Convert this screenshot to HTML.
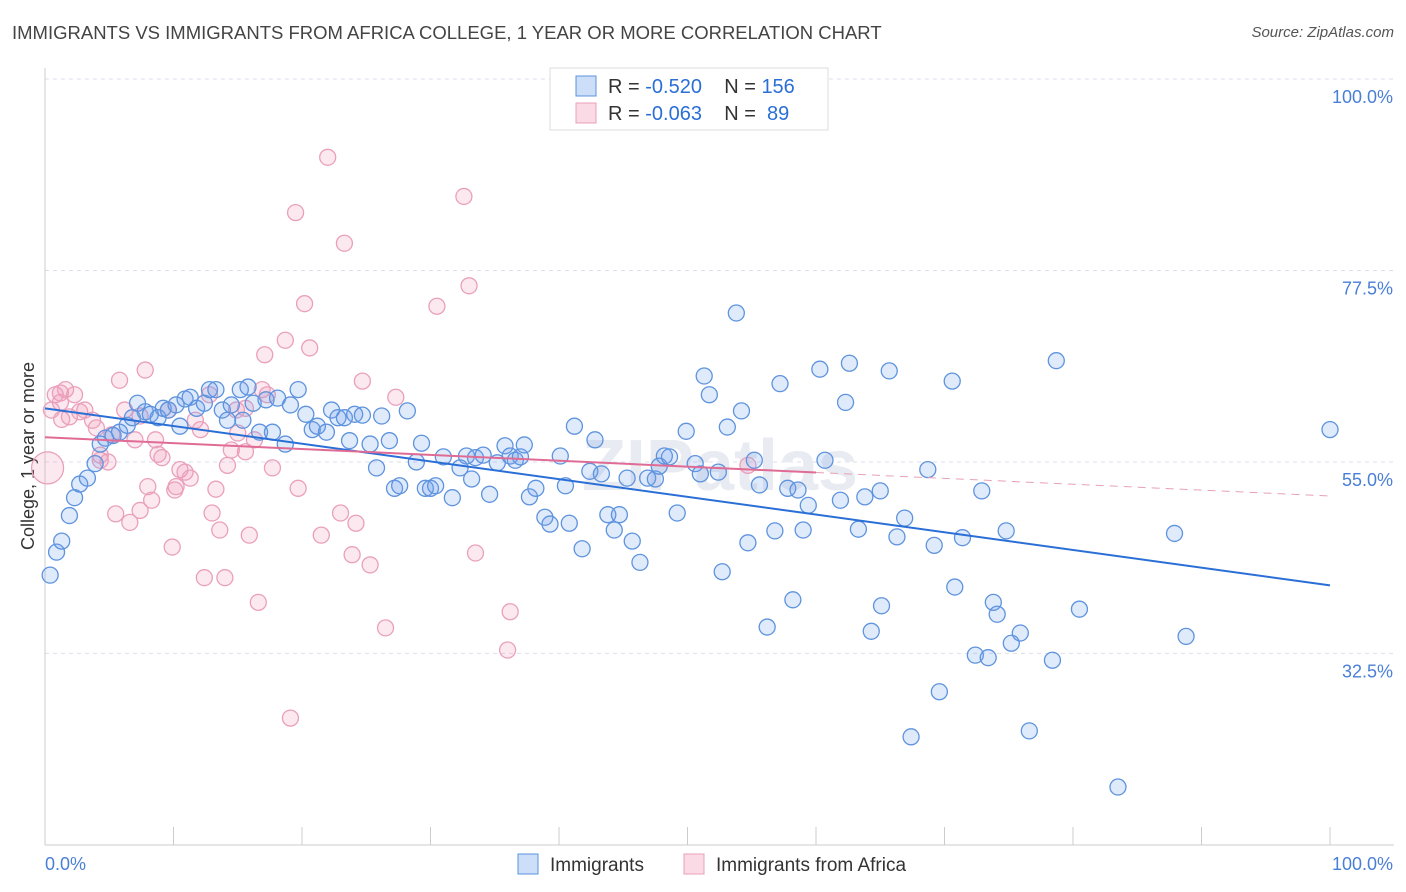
<!DOCTYPE html>
<html><head><meta charset="utf-8"><style>
body{margin:0;background:#fff;font-family:"Liberation Sans",sans-serif;}
#wrap{position:relative;width:1406px;height:892px;overflow:hidden;}
.title{position:absolute;left:12px;top:22px;font-size:18.5px;color:#444;}
.src{position:absolute;right:12px;top:24px;font-size:15px;color:#555;font-style:italic;}
</style></head><body>
<div id="wrap">
<div class="title">IMMIGRANTS VS IMMIGRANTS FROM AFRICA COLLEGE, 1 YEAR OR MORE CORRELATION CHART</div>
<div class="src">Source: ZipAtlas.com</div>
<svg id="chart" width="1406" height="892" style="position:absolute;left:0;top:0"></svg>
</div>
<script>
const blueX=[0.4,0.9,1.3,1.9,2.3,2.7,3.3,3.9,4.3,4.7,5.3,5.8,6.4,6.8,7.2,7.8,8.2,8.8,9.2,9.6,10.2,10.5,10.9,11.3,11.8,12.4,12.8,13.3,13.8,14.2,14.5,15.2,15.4,15.8,16.2,16.7,17.2,17.7,18.1,18.7,19.1,19.7,20.3,20.8,21.2,21.9,22.3,22.8,23.3,23.7,24.1,24.7,25.3,25.8,26.2,26.8,27.2,27.6,28.2,28.9,29.3,29.6,30.0,30.4,31.0,31.7,32.3,32.8,33.2,33.5,34.1,34.6,35.2,35.8,36.2,36.6,37.0,37.3,37.7,38.2,38.9,39.3,40.1,40.5,40.8,41.2,41.8,42.4,42.8,43.3,43.8,44.3,44.7,45.3,45.7,46.3,46.9,47.5,47.8,48.2,48.6,49.2,49.9,50.6,51.0,51.3,51.7,52.4,52.7,53.1,53.8,54.2,54.7,55.2,55.6,56.2,56.8,57.2,57.8,58.2,58.6,59.0,59.4,60.3,60.7,61.9,62.3,62.6,63.3,63.8,64.3,65.0,65.1,65.7,66.3,66.9,67.4,68.7,69.2,69.6,70.6,70.8,71.4,72.4,72.9,73.4,73.8,74.1,74.8,75.2,75.9,76.6,78.4,78.7,80.5,83.5,87.9,88.8,100];
const blueY=[41.7,44.4,45.7,48.7,50.8,52.4,53.1,54.8,57.1,57.8,58.1,58.5,59.3,60.2,61.9,60.9,60.6,60.2,61.3,61.1,61.7,59.2,62.4,62.6,61.3,61.9,63.5,63.5,61.1,59.9,61.7,63.5,59.9,63.8,61.9,58.5,62.3,58.5,62.5,57.1,61.7,63.5,60.6,58.8,59.2,58.5,61.1,60.2,60.2,57.5,60.6,60.5,57.1,54.3,60.4,57.5,51.9,52.2,61.0,55.0,57.2,51.9,51.9,52.2,55.6,50.8,54.3,55.7,53.0,55.5,55.8,51.2,54.9,56.9,55.7,55.2,55.6,57.0,50.9,51.9,48.5,47.7,55.7,52.2,47.8,59.2,44.8,53.9,57.6,53.6,48.8,47.0,48.8,53.1,45.7,43.2,53.1,53.0,54.5,55.7,55.6,49.0,58.6,54.8,53.6,65.1,62.9,53.8,42.1,59.1,72.5,61.0,45.5,55.2,52.3,35.6,46.9,64.2,51.9,38.8,51.7,47.0,49.9,65.9,55.2,50.5,62.0,66.6,47.1,50.9,35.1,51.6,38.1,65.7,46.2,48.4,22.7,54.1,45.2,28.0,64.5,40.3,46.1,32.3,51.6,32.0,38.5,37.1,46.9,33.7,34.9,23.4,31.7,66.9,37.7,16.8,46.6,34.5,58.8];
const pinkX=[0.2,0.5,0.8,1.2,1.6,1.9,2.3,2.7,3.1,3.7,4.0,4.3,4.9,5.2,5.5,5.8,6.2,6.6,7.0,7.4,7.8,8.0,8.3,8.6,8.8,9.1,9.6,9.9,10.2,10.5,10.9,11.3,11.7,12.1,12.4,13.0,13.3,13.6,14.0,14.2,14.5,14.9,15.0,15.6,15.9,16.3,16.6,16.9,17.1,17.3,17.7,18.7,19.1,19.5,19.7,20.2,20.6,21.5,22.0,23.0,23.3,23.9,24.2,24.7,25.3,26.5,27.3,30.5,32.6,33.0,33.5,36.0,36.2,54.7,1.2,4.3,7.4,10.1,12.8,15.6,1.3];
const pinkY=[54.3,61.1,62.9,63.1,63.5,60.3,62.9,60.9,61.1,59.9,59.0,55.2,55.0,58.2,48.9,64.6,61.1,47.9,57.6,60.4,65.8,52.1,50.5,57.6,55.9,55.5,61.1,45.0,52.1,54.1,53.8,53.1,59.9,58.8,41.4,49.0,51.8,47.0,41.4,54.6,56.4,61.1,58.4,56.2,46.4,57.6,38.5,63.5,67.6,62.9,54.3,69.3,24.9,84.3,51.9,73.6,68.4,46.4,90.8,49.0,80.7,44.1,47.8,64.5,42.9,35.5,62.6,73.3,86.2,75.7,44.3,32.9,37.4,54.6,62.0,55.8,49.3,51.7,62.9,61.3,60.0];
const blueTrend=[61.3,40.5];
const pinkTrend=[57.9,51.0];
const pinkSolidEnd=60;
const yTicks=[100,77.5,55,32.5];
const yTickLabels=["100.0%","77.5%","55.0%","32.5%"];
const xTickVals=[0,10,20,30,40,50,60,70,80,90,100];

const svg=document.getElementById('chart');const NS='http://www.w3.org/2000/svg';
const X=v=>45+v*12.85, Y=v=>79+(100-v)*8.51;
function mk(t,a,p){const e=document.createElementNS(NS,t);for(const k in a)e.setAttribute(k,a[k]);(p||svg).appendChild(e);return e;}
yTicks.forEach((t,i)=>{
 const g=mk('line',{x1:45,x2:1394,y1:Y(t),y2:Y(t),stroke:'#dde',"stroke-dasharray":'4,4'});
 
 const tx=mk('text',{x:1393,y:Y(t)+24,'text-anchor':'end','font-size':18,fill:'#4a7fd6','font-family':'Liberation Sans'});
 tx.textContent=yTickLabels[i];
});
const ax=mk('line',{x1:45,x2:45,y1:68,y2:845,stroke:'#ccc'});
const bx=mk('line',{x1:45,x2:1394,y1:845,y2:845,stroke:'#ccc'});
xTickVals.forEach(v=>{const t=mk('line',{x1:X(v),x2:X(v),y1:827,y2:845,stroke:'#ccc'});});
[['0.0%',45,'start'],['100.0%',1393,'end']].forEach(a=>{const t=mk('text',{x:a[1],y:870,'text-anchor':a[2],'font-size':18,fill:'#4a7fd6'});t.textContent=a[0];});
const yt=mk('text',{x:34,y:456,'text-anchor':'middle','font-size':18,fill:'#333',transform:'rotate(-90 34 456)'});yt.textContent='College, 1 year or more';
const wm=mk('text',{x:720,y:490,'text-anchor':'middle','font-size':72,fill:'#e8ebf1','font-weight':'bold'});wm.textContent='ZIPatlas';
pinkX.forEach((x,i)=>{const c=mk('circle',{cx:X(x),cy:Y(pinkY[i]),r:i==0?16:8,fill:'rgba(240,150,180,0.22)',stroke:'#eaa0bb','stroke-width':1.3});});
blueX.forEach((x,i)=>{const c=mk('circle',{cx:X(x),cy:Y(blueY[i]),r:8,fill:'rgba(110,160,235,0.22)',stroke:'#5e93de','stroke-width':1.3});});
const bl=mk('line',{x1:X(0),y1:Y(blueTrend[0]),x2:X(100),y2:Y(blueTrend[1]),stroke:'#2a6fd6','stroke-width':2});
const pm=pinkTrend[0]+(pinkTrend[1]-pinkTrend[0])*pinkSolidEnd/100;
const pl=mk('line',{x1:X(0),y1:Y(pinkTrend[0]),x2:X(pinkSolidEnd),y2:Y(pm),stroke:'#e06b94','stroke-width':2});
const pd=mk('line',{x1:X(pinkSolidEnd),y1:Y(pm),x2:X(100),y2:Y(pinkTrend[1]),stroke:'#e8a0b8','stroke-width':1,'stroke-dasharray':'8,6'});
const lb=mk('rect',{x:550,y:68,width:278,height:62,fill:'#fff',stroke:'#ddd'});
[[86,'rgba(110,160,235,0.35)','#5e93de','-0.520','156'],[113,'rgba(240,150,180,0.35)','#eaa0bb','-0.063',' 89']].forEach(r=>{
 const s=mk('rect',{x:576,y:r[0]-10,width:20,height:20,fill:r[1],stroke:r[2]});
 const t=mk('text',{x:608,y:r[0]+7,'font-size':20,fill:'#333',style:'white-space:pre'});
 t.innerHTML='R = <tspan fill="#2a6fd6">'+r[3]+'</tspan>    N = <tspan fill="#2a6fd6">'+r[4]+'</tspan>';
 
});
[[518,'rgba(110,160,235,0.35)','#5e93de','Immigrants'],[684,'rgba(240,150,180,0.35)','#eaa0bb','Immigrants from Africa']].forEach(r=>{
 const s=mk('rect',{x:r[0],y:854,width:20,height:20,fill:r[1],stroke:r[2]});
 const t=mk('text',{x:r[0]+32,y:871,'font-size':19,fill:'#333'});t.textContent=r[3];
});
</script>
</body></html>
